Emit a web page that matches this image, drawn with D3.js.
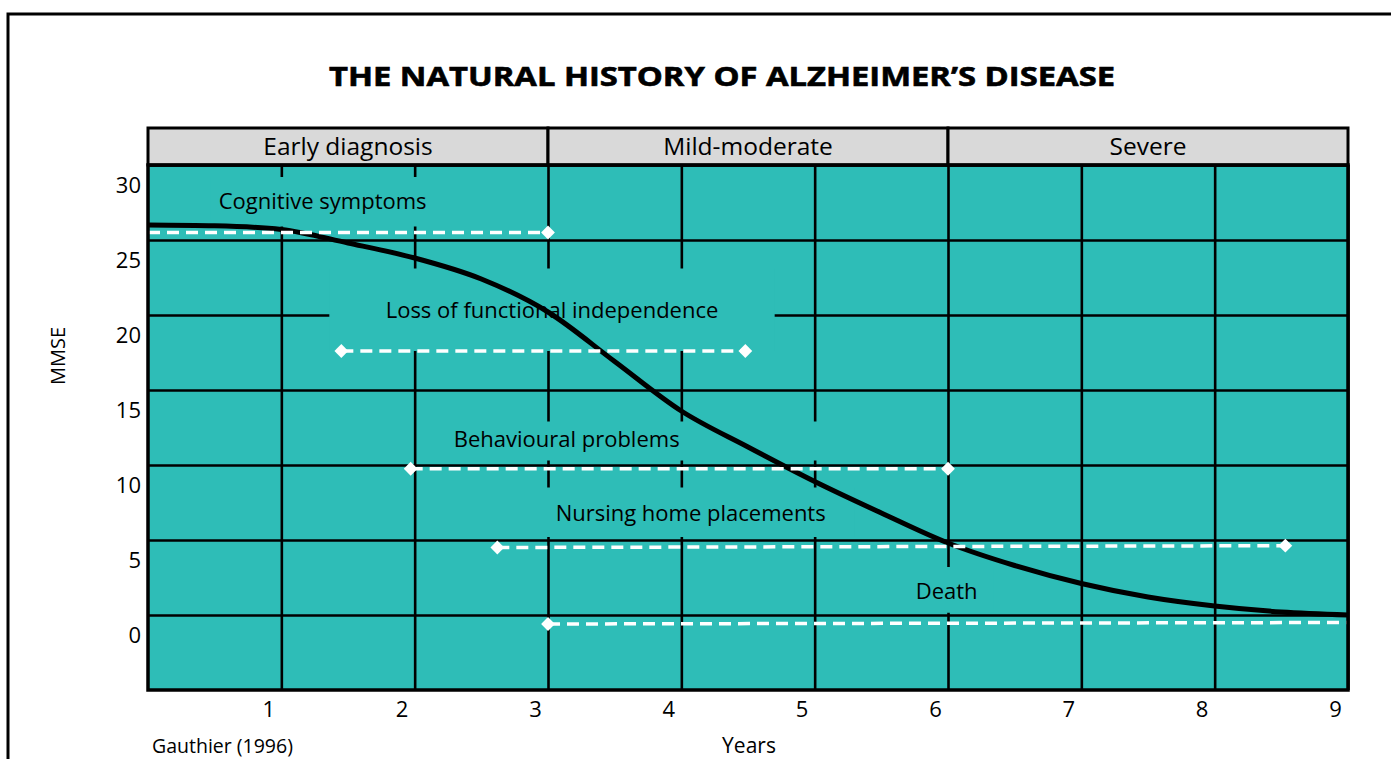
<!DOCTYPE html>
<html>
<head>
<meta charset="utf-8">
<script src="https://cdn.jsdelivr.net/npm/d3@7"></script>
<style>
    body { margin: 0; background: #fff; }
    text { font-family: "Open Sans", sans-serif; fill: #000; }
</style>
</head>
<body>
<div id="chart"></div>
<script>
// stages along the top band (years)
const stages = ['Early diagnosis', 'Mild-moderate', 'Severe'];
const stageStart = [0, 3, 6];
const stageEnd = [3, 6, 9];

// tick labels
const yearTicks = [1, 2, 3, 4, 5, 6, 7, 8, 9];
const mmseTicks = [0, 5, 10, 15, 20, 25, 30];

// MMSE curve, read every half year
const curveYears = [0, 0.5, 1, 1.5, 2, 2.5, 3, 3.5, 4, 4.5, 5, 5.5, 6, 6.5, 7, 7.5, 8, 8.5, 9];
const curveMmse = [26.0, 25.95, 25.7, 24.8, 23.8, 22.4, 20.2, 16.9, 13.6, 11.2, 8.9, 6.8, 4.8, 3.3, 2.1, 1.2, 0.6, 0.2, 0.0];

// events (dashed ranges)
const events = ['Cognitive symptoms', 'Loss of functional independence', 'Behavioural problems', 'Nursing home placements', 'Death'];
const eventStart = [0, 1.45, 1.97, 2.62, 3.0];
const eventEnd = [3.0, 4.48, 6.0, 8.53, 9.0];
const eventStartMmse = [25.5, 17.6, 9.75, 4.5, -0.6];
const eventEndMmse = [25.5, 17.6, 9.75, 4.62, -0.5];
const eventLabelYear = [1.31, 3.03, 3.14, 4.07, 5.99];
const eventLabelMmse = [27.6, 20.3, 11.7, 6.8, 1.6];

const width = 1391, height = 759;
const margin = {top: 165, right: 43, bottom: 69, left: 148};
const bandH = 37;
const teal = '#2ebdb7';

const svg = d3.select('#chart').append('svg')
    .attr('width', width)
    .attr('height', height);

// outer frame
svg.append('rect')
    .attr('x', 8).attr('y', 14)
    .attr('width', width + 20).attr('height', height + 20)
    .attr('fill', 'none').attr('stroke', '#000').attr('stroke-width', 3);

svg.append('text')
    .attr('x', 722).attr('y', 86)
    .attr('text-anchor', 'middle')
    .attr('font-size', 27)
    .attr('font-family', '"DejaVu Sans", sans-serif')
    .style('font-weight', 'bold')
    .attr('stroke', '#000')
    .attr('stroke-width', 0.6)
    .attr('textLength', 786)
    .attr('lengthAdjust', 'spacingAndGlyphs')
    .text('THE NATURAL HISTORY OF ALZHEIMER\u2019S DISEASE');

const x = d3.scaleLinear().domain([0, 9]).range([margin.left, width - margin.right]);
const y = d3.scaleLinear().domain([-5, 30]).range([height - margin.bottom, margin.top]);

const plotW = x(9) - x(0);
const plotH = y(-5) - y(30);

// background
svg.append('rect')
    .attr('x', x(0)).attr('y', y(30))
    .attr('width', plotW).attr('height', plotH)
    .attr('fill', teal);

// stage band
const band = svg.append('g');
band.selectAll('rect')
    .data(stages)
    .join('rect')
    .attr('x', (d, i) => x(stageStart[i]))
    .attr('y', y(30) - bandH)
    .attr('width', (d, i) => x(stageEnd[i]) - x(stageStart[i]))
    .attr('height', bandH)
    .attr('fill', '#d9d9d9')
    .attr('stroke', '#000')
    .attr('stroke-width', 3);
band.selectAll('text')
    .data(stages)
    .join('text')
    .attr('x', (d, i) => (x(stageStart[i]) + x(stageEnd[i])) / 2)
    .attr('y', y(30) - bandH / 2)
    .attr('dy', '0.36em')
    .attr('text-anchor', 'middle')
    .attr('font-size', 24.5)
    .text(d => d);

// axes doubling as grid
const xAxis = d3.axisBottom(x).tickValues(yearTicks).tickSize(-plotH).tickPadding(11);
const yAxis = d3.axisLeft(y).tickValues(mmseTicks).tickSize(-plotW).tickPadding(7);

const gx = svg.append('g')
    .attr('transform', `translate(0,${y(-5)})`)
    .call(xAxis);
const gy = svg.append('g')
    .attr('transform', `translate(${x(0)},0)`)
    .call(yAxis);

[gx, gy].forEach(g => {
    g.select('.domain').remove();
    g.selectAll('.tick line').attr('stroke', '#000').attr('stroke-width', 2.6);
    g.selectAll('.tick text').attr('font-size', 22).attr('font-family', '"Open Sans", sans-serif').attr('fill', '#000');
});
gx.selectAll('.tick text').attr('dx', -13);
gy.selectAll('.tick text').attr('dy', '0.34em').attr('transform', 'translate(0,20)');

// teal boxes behind the labels (year0, year1, mmse0, mmse1)
const labelBoxes = [
    [0.47, 2.19, 25.9, 29.2],
    [1.36, 4.7, 17.6, 23.1],
    [2.19, 5.1, 10.3, 12.9],
    [2.7, 5.3, 5.2, 8.5],
    [5.64, 6.34, 0.15, 3.2]
];
svg.append('g').selectAll('rect')
    .data(labelBoxes)
    .join('rect')
    .attr('x', d => x(d[0]))
    .attr('y', d => y(d[3]))
    .attr('width', d => x(d[1]) - x(d[0]))
    .attr('height', d => y(d[2]) - y(d[3]))
    .attr('fill', teal);

svg.append('g').selectAll('text')
    .data(events)
    .join('text')
    .attr('x', (d, i) => x(eventLabelYear[i]))
    .attr('y', (d, i) => y(eventLabelMmse[i]))
    .attr('dy', '0.36em')
    .attr('text-anchor', 'middle')
    .attr('font-size', 22)
    .text(d => d);

// MMSE decline
const line = d3.line()
    .x((d, i) => x(curveYears[i]))
    .y(d => y(d))
    .curve(d3.curveMonotoneX);

svg.append('path')
    .datum(curveMmse)
    .attr('d', line)
    .attr('fill', 'none')
    .attr('stroke', '#000')
    .attr('stroke-width', 5);

// dashed event ranges
svg.append('clipPath').attr('id', 'plot-clip')
    .append('rect')
    .attr('x', x(0)).attr('y', y(30))
    .attr('width', plotW).attr('height', plotH);

const ev = svg.append('g').attr('clip-path', 'url(#plot-clip)');
ev.selectAll('line')
    .data(events)
    .join('line')
    .attr('x1', (d, i) => x(eventStart[i]))
    .attr('x2', (d, i) => x(eventEnd[i]))
    .attr('y1', (d, i) => y(eventStartMmse[i]))
    .attr('y2', (d, i) => y(eventEndMmse[i]))
    .attr('stroke', '#fff')
    .attr('stroke-width', 3.5)
    .attr('stroke-dasharray', '12,7');

const ends = [];
events.forEach((d, i) => {
    ends.push([eventStart[i], eventStartMmse[i]]);
    ends.push([eventEnd[i], eventEndMmse[i]]);
});
const diamond = d3.symbol().type(d3.symbolSquare).size(95);
ev.selectAll('path')
    .data(ends.filter(d => d[0] > 0 && d[0] < 9))
    .join('path')
    .attr('d', diamond)
    .attr('transform', d => `translate(${x(d[0])},${y(d[1])}) rotate(45)`)
    .attr('fill', '#fff');

// plot border
svg.append('rect')
    .attr('x', x(0)).attr('y', y(30))
    .attr('width', plotW).attr('height', plotH)
    .attr('fill', 'none')
    .attr('stroke', '#000')
    .attr('stroke-width', 3.5);

// axis titles and source
svg.append('text')
    .attr('transform', 'translate(65,356) rotate(-90)')
    .attr('text-anchor', 'middle')
    .attr('font-size', 20)
    .text('MMSE');

svg.append('text')
    .attr('x', 749)
    .attr('y', 753)
    .attr('text-anchor', 'middle')
    .attr('font-size', 21)
    .text('Years');

svg.append('text')
    .attr('x', 152)
    .attr('y', 753)
    .attr('font-size', 19.5)
    .text('Gauthier (1996)');
</script>
</body>
</html>
